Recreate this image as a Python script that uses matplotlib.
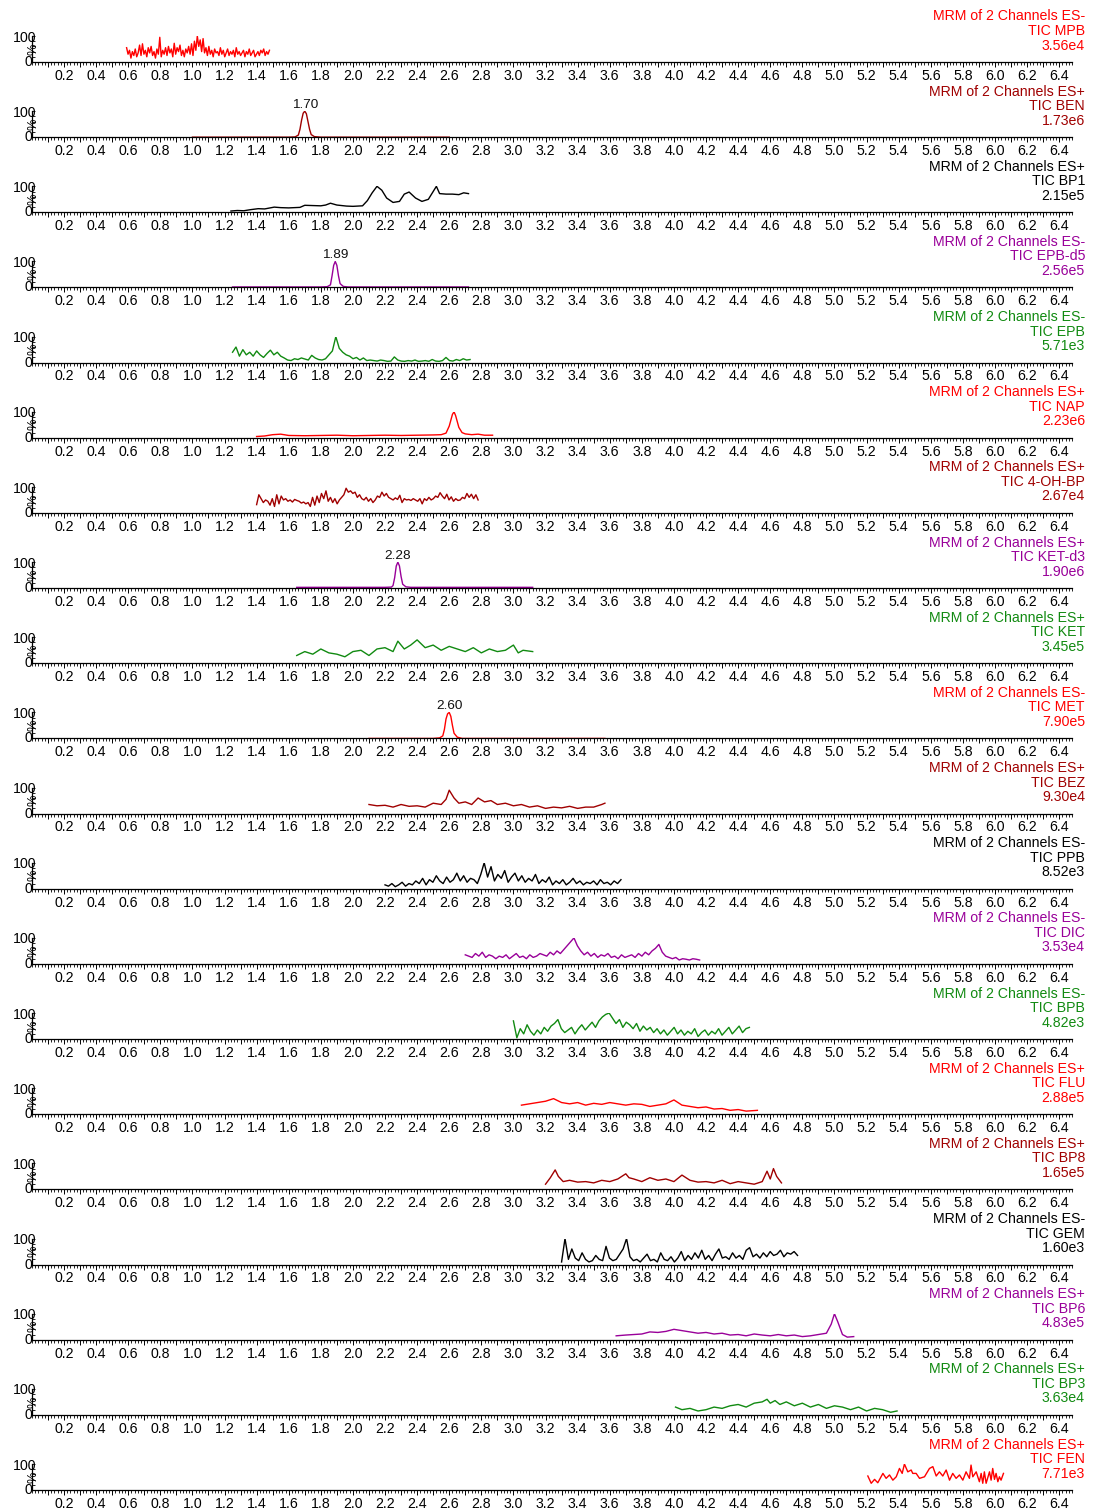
#coding:utf-8

import numpy as np
import matplotlib
matplotlib.use("Agg")
import matplotlib.pyplot as plt
from matplotlib.ticker import FixedLocator, MultipleLocator, FuncFormatter

plt.rcParams['font.family'] = ['Liberation Sans', 'DejaVu Sans']

RED = '#ff0000'
DARKRED = '#a00000'
BLACK = '#000000'
PURPLE = '#990099'
GREEN = '#118a11'

# channel info (top to bottom)
compounds = ['MPB', 'BEN', 'BP1', 'EPB-d5', 'EPB', 'NAP', '4-OH-BP', 'KET-d3', 'KET', 'MET',
             'BEZ', 'PPB', 'DIC', 'BPB', 'FLU', 'BP8', 'GEM', 'BP6', 'BP3', 'FEN']
modes = ['ES-', 'ES+', 'ES+', 'ES-', 'ES-', 'ES+', 'ES+', 'ES+', 'ES+', 'ES-',
         'ES+', 'ES-', 'ES-', 'ES-', 'ES+', 'ES+', 'ES-', 'ES+', 'ES+', 'ES+']
intensities = ['3.56e4', '1.73e6', '2.15e5', '2.56e5', '5.71e3', '2.23e6', '2.67e4', '1.90e6', '3.45e5', '7.90e5',
               '9.30e4', '8.52e3', '3.53e4', '4.82e3', '2.88e5', '1.65e5', '1.60e3', '4.83e5', '3.63e4', '7.71e3']
colors = [RED, DARKRED, BLACK, PURPLE, GREEN, RED, DARKRED, PURPLE, GREEN, RED,
          DARKRED, BLACK, PURPLE, GREEN, RED, DARKRED, BLACK, PURPLE, GREEN, RED]
peak_labels = {1: 1.70, 3: 1.89, 7: 2.28, 9: 2.60}

# noisy traces sampled on an even grid: (start, end), relative intensity %
mpb_range = (0.59, 1.48)
mpb_y = [55, 30, 45, 15, 40, 25, 50, 20, 35, 65, 25, 70, 30, 45, 20, 55, 35, 60, 25, 40,
         15, 50, 30, 95, 20, 45, 30, 55, 25, 60, 35, 50, 20, 72, 30, 55, 40, 65, 25, 45,
         20, 50, 35, 60, 30, 70, 25, 80, 45, 100, 60, 85, 40, 90, 35, 55, 25, 60, 30, 45,
         20, 50, 35, 40, 25, 55, 30, 45, 20, 35, 50, 25, 40, 30, 45, 20, 55, 30, 40, 25,
         35, 45, 20, 40, 30, 50, 25, 35, 45, 20, 30, 40, 25, 45, 35, 50, 25, 40, 30, 45]

epb_range = (1.25, 2.73)
epb_y = [40, 60, 25, 50, 30, 40, 25, 45, 30, 20, 35, 48, 30, 40, 25, 18, 10, 8, 15, 12,
         18, 14, 10, 28, 18, 12, 10, 15, 30, 45, 100, 55, 40, 30, 25, 15, 20, 10, 18, 8,
         10, 8, 6, 10, 8, 5, 6, 22, 10, 6, 5, 8, 6, 10, 5, 6, 8, 5, 12, 6,
         5, 8, 20, 8, 6, 12, 8, 15, 10, 12]

ohbp_range = (1.40, 2.78)
ohbp_y = [32, 70, 55, 40, 50, 45, 30, 55, 25, 70, 35, 65, 50, 55, 45, 50, 42, 52, 48, 45,
          38, 42, 35, 40, 25, 60, 30, 65, 40, 75, 55, 85, 45, 60, 40, 55, 35, 50, 60, 70,
          95, 80, 85, 75, 80, 60, 70, 55, 50, 60, 45, 55, 40, 50, 65, 60, 80, 65, 75, 60,
          55, 50, 58, 52, 68, 40, 55, 50, 52, 48, 55, 50, 45, 55, 35, 55, 48, 60, 50, 55,
          65, 60, 78, 65, 55, 72, 50, 62, 45, 55, 48, 50, 60, 55, 75, 60, 72, 55, 70, 50]

ppb_range = (2.20, 3.67)
ppb_y = [15, 10, 20, 8, 15, 25, 10, 20, 15, 30, 20, 40, 15, 35, 25, 50, 30, 20, 45, 25,
         35, 60, 30, 50, 25, 40, 35, 20, 55, 100, 45, 85, 30, 55, 40, 70, 25, 45, 60, 30,
         50, 25, 40, 30, 55, 20, 35, 25, 45, 15, 30, 20, 35, 15, 25, 40, 20, 30, 15, 25,
         20, 30, 15, 35, 20, 25, 15, 30, 20, 35]

dic_range = (2.70, 4.16)
dic_y = [35, 30, 25, 40, 30, 45, 25, 35, 30, 20, 30, 25, 35, 20, 30, 40, 25, 30, 20, 35,
         25, 30, 40, 35, 30, 45, 35, 50, 40, 55, 70, 85, 100, 70, 50, 35, 45, 30, 40, 25,
         35, 30, 40, 25, 30, 20, 35, 25, 30, 35, 25, 40, 30, 45, 35, 50, 60, 75, 45, 30,
         25, 20, 25, 15, 20, 18, 15, 20, 18, 15]

bpb_range = (3.00, 4.47)
bpb_y = [70, 5, 40, 20, 55, 30, 15, 35, 20, 45, 30, 50, 60, 75, 40, 25, 35, 45, 20, 40,
         55, 35, 50, 65, 45, 70, 85, 95, 100, 80, 60, 75, 45, 65, 55, 40, 60, 30, 50, 35,
         45, 25, 40, 20, 35, 15, 30, 45, 20, 35, 15, 30, 20, 40, 10, 25, 35, 15, 30, 20,
         40, 15, 30, 45, 20, 35, 50, 25, 40, 45]

gem_range = (3.30, 4.77)
gem_y = [10, 100, 20, 60, 25, 15, 45, 20, 10, 15, 35, 20, 15, 70, 25, 15, 20, 40, 60, 100,
         30, 15, 20, 10, 25, 40, 15, 20, 10, 45, 20, 15, 30, 10, 25, 50, 15, 35, 20, 45,
         25, 55, 20, 35, 15, 40, 60, 25, 30, 20, 45, 25, 35, 20, 55, 65, 30, 40, 25, 45,
         30, 50, 35, 40, 55, 30, 45, 40, 50, 35]

# traces read as (time, relative intensity %) points
fen_t = [5.208, 5.229, 5.250, 5.270, 5.302, 5.322, 5.343, 5.364, 5.385, 5.405, 5.422, 5.436,
         5.457, 5.478, 5.488, 5.509, 5.530, 5.561, 5.592, 5.613, 5.634, 5.654, 5.675, 5.696,
         5.717, 5.737, 5.758, 5.779, 5.800, 5.820, 5.841, 5.851, 5.862, 5.883, 5.903, 5.914,
         5.924, 5.934, 5.945, 5.966, 5.976, 5.986, 5.997, 6.007, 6.018, 6.028, 6.038, 6.053]
fen_y = [54, 26, 41, 28, 64, 45, 58, 38, 51, 83, 64, 100, 70, 77, 64, 64, 45, 51, 83, 90,
         54, 70, 54, 77, 38, 64, 45, 58, 38, 70, 45, 96, 51, 70, 32, 64, 26, 70, 26, 70,
         38, 83, 41, 64, 32, 51, 38, 64]

ben_t = [1.00, 1.60, 1.64, 1.66, 1.67, 1.68, 1.69, 1.70, 1.71, 1.72, 1.73, 1.74, 1.76, 1.80, 2.60]
ben_y = [0, 0, 1, 8, 30, 65, 92, 100, 90, 60, 30, 10, 2, 0, 0]

bp1_t = [1.24, 1.28, 1.32, 1.36, 1.41, 1.45, 1.51, 1.55, 1.60, 1.67, 1.70, 1.75, 1.80, 1.83, 1.86, 1.90,
         1.96, 2.00, 2.06, 2.09, 2.12, 2.15, 2.18, 2.21, 2.25, 2.29, 2.32, 2.35, 2.39, 2.43, 2.47,
         2.50, 2.52, 2.54, 2.58, 2.62, 2.66, 2.69, 2.72]
bp1_y = [5, 7, 6, 10, 14, 13, 20, 18, 17, 19, 27, 26, 25, 28, 35, 28, 24, 23, 25, 45, 75, 100, 85, 55,
         38, 42, 70, 78, 55, 42, 50, 80, 100, 72, 70, 70, 68, 75, 72]

epbd5_t = [1.25, 1.80, 1.84, 1.86, 1.87, 1.88, 1.89, 1.90, 1.91, 1.92, 1.94, 1.97, 2.72]
epbd5_y = [2, 2, 3, 10, 45, 85, 100, 85, 45, 15, 4, 2, 2]

nap_t = [1.40, 1.45, 1.50, 1.55, 1.60, 1.70, 1.80, 1.90, 2.00, 2.10, 2.20, 2.30, 2.40, 2.50, 2.55,
         2.58, 2.60, 2.62, 2.63, 2.64, 2.66, 2.68, 2.70, 2.74, 2.78, 2.82, 2.87]
nap_y = [5, 7, 12, 14, 9, 8, 9, 10, 8, 9, 10, 9, 10, 11, 12, 18, 45, 90, 100, 85, 40, 20, 15, 12, 14, 10, 10]

ketd3_t = [1.65, 2.20, 2.24, 2.25, 2.26, 2.27, 2.28, 2.29, 2.30, 2.31, 2.33, 2.36, 2.60, 3.12]
ketd3_y = [3, 3, 4, 10, 40, 85, 100, 85, 45, 15, 5, 3, 3, 3]

ket_t = [1.65, 1.70, 1.75, 1.80, 1.85, 1.90, 1.95, 2.00, 2.05, 2.10, 2.15, 2.20, 2.25, 2.28, 2.32, 2.36,
         2.40, 2.45, 2.50, 2.55, 2.60, 2.65, 2.70, 2.75, 2.80, 2.85, 2.90, 2.95, 3.00, 3.03, 3.06, 3.12]
ket_y = [30, 45, 35, 55, 40, 35, 25, 45, 50, 30, 55, 60, 45, 85, 55, 70, 90, 60, 70, 50, 65, 55, 45, 60,
         40, 55, 45, 50, 70, 40, 50, 45]

met_t = [2.10, 2.50, 2.54, 2.56, 2.57, 2.58, 2.59, 2.60, 2.61, 2.62, 2.63, 2.65, 2.68, 3.57]
met_y = [0, 0, 2, 10, 35, 75, 95, 100, 85, 50, 20, 5, 0, 0]

bez_t = [2.10, 2.15, 2.20, 2.25, 2.30, 2.35, 2.40, 2.45, 2.50, 2.55, 2.58, 2.60, 2.63, 2.66, 2.70, 2.74,
         2.78, 2.82, 2.86, 2.90, 2.95, 3.00, 3.05, 3.10, 3.15, 3.20, 3.25, 3.30, 3.35, 3.40, 3.45, 3.50,
         3.55, 3.57]
bez_y = [35, 30, 32, 25, 35, 28, 30, 25, 40, 35, 55, 90, 60, 40, 45, 35, 60, 45, 50, 35, 40, 30, 35, 25,
         30, 20, 25, 22, 28, 20, 25, 25, 35, 40]

flu_t = [3.05, 3.10, 3.15, 3.20, 3.25, 3.30, 3.35, 3.40, 3.45, 3.50, 3.55, 3.60, 3.65, 3.70, 3.75, 3.80,
         3.85, 3.90, 3.95, 4.00, 4.05, 4.10, 4.15, 4.20, 4.25, 4.30, 4.35, 4.40, 4.45, 4.52]
flu_y = [35, 40, 45, 50, 60, 45, 40, 45, 35, 42, 38, 45, 40, 35, 40, 38, 30, 35, 40, 55, 35, 30, 25, 28,
         20, 22, 15, 18, 12, 15]

bp8_t = [3.20, 3.23, 3.26, 3.28, 3.31, 3.35, 3.40, 3.45, 3.50, 3.55, 3.60, 3.65, 3.70, 3.72, 3.75, 3.80,
         3.85, 3.90, 3.95, 4.00, 4.05, 4.10, 4.15, 4.20, 4.25, 4.30, 4.35, 4.40, 4.45, 4.50, 4.55, 4.58,
         4.60, 4.62, 4.64, 4.67]
bp8_y = [20, 45, 75, 50, 30, 35, 28, 30, 25, 35, 30, 40, 60, 45, 40, 30, 45, 35, 40, 30, 55, 35, 28, 30,
         25, 35, 22, 30, 25, 20, 30, 70, 40, 80, 50, 25]

bp6_t = [3.64, 3.70, 3.75, 3.80, 3.85, 3.90, 3.95, 4.00, 4.05, 4.10, 4.15, 4.20, 4.25, 4.30, 4.35, 4.40,
         4.45, 4.50, 4.55, 4.60, 4.65, 4.70, 4.75, 4.80, 4.85, 4.90, 4.95, 4.98, 5.00, 5.02, 5.05, 5.08, 5.12]
bp6_y = [15, 18, 20, 22, 30, 28, 32, 40, 35, 30, 25, 28, 22, 25, 18, 20, 15, 22, 18, 15, 20, 15, 18, 12,
         15, 20, 25, 60, 100, 70, 20, 10, 12]

bp3_t = [4.01, 4.05, 4.10, 4.15, 4.20, 4.25, 4.30, 4.35, 4.40, 4.45, 4.50, 4.55, 4.58, 4.60, 4.63, 4.66,
         4.70, 4.75, 4.80, 4.85, 4.90, 4.95, 5.00, 5.05, 5.10, 5.15, 5.20, 5.25, 5.30, 5.35, 5.39]
bp3_y = [30, 20, 25, 15, 20, 30, 25, 35, 40, 30, 45, 50, 60, 45, 55, 40, 50, 35, 45, 30, 40, 25, 35, 30,
         20, 30, 15, 25, 20, 10, 15]


def grid_trace(rng, y):
    return np.linspace(rng[0], rng[1], len(y)), np.array(y)


traces = [
    grid_trace(mpb_range, mpb_y),
    (ben_t, ben_y),
    (bp1_t, bp1_y),
    (epbd5_t, epbd5_y),
    grid_trace(epb_range, epb_y),
    (nap_t, nap_y),
    grid_trace(ohbp_range, ohbp_y),
    (ketd3_t, ketd3_y),
    (ket_t, ket_y),
    (met_t, met_y),
    (bez_t, bez_y),
    grid_trace(ppb_range, ppb_y),
    grid_trace(dic_range, dic_y),
    grid_trace(bpb_range, bpb_y),
    (flu_t, flu_y),
    (bp8_t, bp8_y),
    grid_trace(gem_range, gem_y),
    (bp6_t, bp6_y),
    (bp3_t, bp3_y),
    (fen_t, fen_y),
]

W, H = 1096, 1512
fig = plt.figure(figsize=(W / 100, H / 100), dpi=100)

x0_px, x1_px = 31.9, 1072.0
step_px = 75.16
fs = 10.2

for i in range(20):
    base = 62 + step_px * i
    ax = fig.add_axes([x0_px / W, 1 - base / H, (x1_px - x0_px) / W, 26 / H])
    t, y = traces[i]
    ax.plot(t, y, color=colors[i], lw=1.0)
    ax.set_xlim(0, 6.48)
    ax.set_ylim(0, 100)

    for s in ['top', 'right']:
        ax.spines[s].set_visible(False)
    ax.spines['bottom'].set_linewidth(0.9)
    ax.spines['left'].set_linewidth(0.9)

    ax.xaxis.set_major_locator(FixedLocator(np.round(np.arange(0.1, 6.45, 0.1), 2)))
    ax.xaxis.set_minor_locator(MultipleLocator(0.02))
    ax.xaxis.set_major_formatter(FuncFormatter(
        lambda v, p: '%.1f' % v if int(round(v * 10)) % 2 == 0 else ''))
    ax.tick_params(axis='x', which='major', length=3.5, width=0.7, pad=1.4, labelsize=fs)
    ax.tick_params(axis='x', which='minor', length=2.0, width=0.6)

    ax.set_yticks([0, 100])
    ax.set_yticklabels([])
    ax.yaxis.set_minor_locator(MultipleLocator(20))
    ax.tick_params(axis='y', which='both', direction='in', length=2.5, width=0.6)

    ax.text(0.004, 94, '100', transform=ax.get_yaxis_transform(), ha='right', va='center', fontsize=fs)
    ax.text(0.0, 0, '0', transform=ax.get_yaxis_transform(), ha='right', va='center', fontsize=fs)
    ax.text(0.0015, 50, '%', transform=ax.get_yaxis_transform(), ha='center', va='center',
            rotation=90, fontsize=fs - 1)

    if i in peak_labels:
        pt = peak_labels[i]
        ax.text(pt, 102, '%.2f' % pt, ha='center', va='bottom', fontsize=fs - 0.5, color='#111111')

    title = ['MRM of 2 Channels ' + modes[i], 'TIC ' + compounds[i], intensities[i]]
    for k, line in enumerate(title):
        fig.text(1085 / W, 1 - (base - 45.5 + 14.5 * k) / H, line, ha='right', va='center',
                 fontsize=fs, color=colors[i])

fig.savefig('out.png', dpi=100)
